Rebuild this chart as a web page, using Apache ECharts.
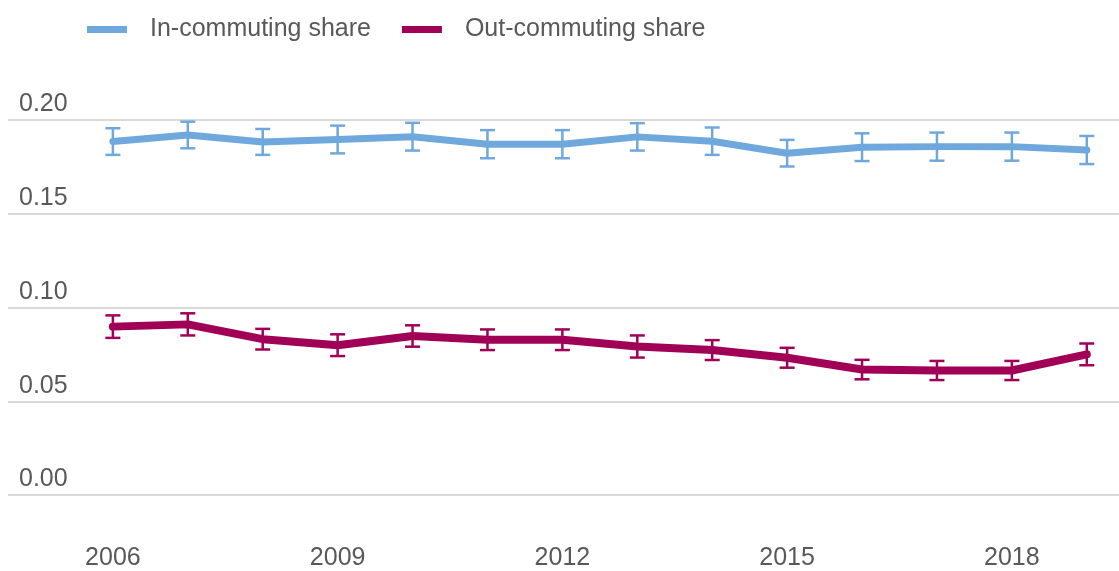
<!DOCTYPE html>
<html lang="en">
<head>
  <meta charset="UTF-8">
  <title>Commuting shares</title>
  <style>
    html, body { margin: 0; padding: 0; background: #fff; }
    #chart { width: 1119px; height: 571px; }
  </style>
</head>
<body>
  <div id="chart"></div>
  <script src="https://cdn.jsdelivr.net/npm/echarts@6/dist/echarts.min.js"></script>
  <script>
    // data
    var years = [2006, 2007, 2008, 2009, 2010, 2011, 2012, 2013, 2014, 2015, 2016, 2017, 2018, 2019];
    var yearLabels = [2006, 2009, 2012, 2015, 2018];
    var inShare = [0.1885, 0.1920, 0.1883, 0.1896, 0.1911, 0.1871, 0.1871, 0.1910, 0.1887, 0.1823, 0.1855, 0.1858, 0.1858, 0.1840];
    var inErr = [0.0071, 0.0071, 0.0069, 0.0074, 0.0074, 0.0075, 0.0075, 0.0073, 0.0073, 0.0071, 0.0074, 0.0075, 0.0075, 0.0075];
    var outShare = [0.0898, 0.0910, 0.0831, 0.0799, 0.0848, 0.0828, 0.0828, 0.0792, 0.0773, 0.0732, 0.0669, 0.0664, 0.0664, 0.0750];
    var outErr = [0.0060, 0.0059, 0.0055, 0.0058, 0.0057, 0.0055, 0.0055, 0.0059, 0.0053, 0.0053, 0.0052, 0.0051, 0.0051, 0.0058];
    var yTicks = [0, 0.05, 0.10, 0.15, 0.20];

    var blue = '#6fa8dc';
    var maroon = '#a00056';
    var grey = '#595959';
    var font = 'Liberation Sans, Arial, sans-serif';

    function pairs(vals) {
      return years.map(function (y, i) { return [y, vals[i]]; });
    }
    function bars(vals, errs) {
      return years.map(function (y, i) { return [y, vals[i] - errs[i], vals[i] + errs[i]]; });
    }

    // draws one error bar (stem + two caps)
    function errorBar(color) {
      return function (params, api) {
        var x = api.value(0);
        var lo = api.coord([x, api.value(1)]);
        var hi = api.coord([x, api.value(2)]);
        var w = 7.5;
        var style = { stroke: color, lineWidth: 2.5 };
        return {
          type: 'group',
          children: [
            { type: 'line', shape: { x1: lo[0], y1: lo[1], x2: hi[0], y2: hi[1] }, style: style },
            { type: 'line', shape: { x1: lo[0] - w, y1: lo[1], x2: lo[0] + w, y2: lo[1] }, style: style },
            { type: 'line', shape: { x1: hi[0] - w, y1: hi[1], x2: hi[0] + w, y2: hi[1] }, style: style }
          ]
        };
      };
    }

    var myChart = echarts.init(document.getElementById('chart'));
    var option = {
      animation: false,
      textStyle: { fontFamily: font },
      legend: {
        left: 87,
        top: 17,
        padding: 0,
        icon: 'rect',
        itemWidth: 40,
        itemHeight: 7,
        itemGap: 31,
        data: ['In-commuting share', 'Out-commuting share'],
        lineStyle: { cap: 'butt', width: 0 },
        textStyle: { fontSize: 25, color: grey, fontFamily: font, padding: [0, 0, 0, 18] }
      },
      grid: { left: 8, right: 0, top: 120, bottom: 75 },
      xAxis: {
        type: 'value',
        min: 2004.6,
        max: 2019.43,
        axisLine: { show: false },
        axisTick: { show: false },
        splitLine: { show: false },
        axisLabel: {
          customValues: yearLabels,
          margin: 51,
          fontSize: 25,
          color: grey,
          fontFamily: font,
          formatter: function (v) { return String(v); }
        }
      },
      yAxis: {
        type: 'value',
        min: 0,
        max: 0.2,
        interval: 0.05,
        axisLine: { show: false },
        axisTick: { show: false },
        splitLine: { lineStyle: { color: '#d9d9d9', width: 2 } },
        axisLabel: {
          inside: true,
          margin: 11,
          fontSize: 25,
          color: grey,
          fontFamily: font,
          verticalAlign: 'bottom',
          padding: [0, 0, 3, 0],
          formatter: function (v) {
            var t = yTicks.filter(function (k) { return Math.abs(k - v) < 1e-9; });
            return t.length ? t[0].toFixed(2) : '';
          }
        }
      },
      series: [
        {
          name: 'In-commuting share',
          type: 'line',
          data: pairs(inShare),
          showSymbol: false,
          color: blue,
          lineStyle: { width: 7, color: blue, cap: 'round', join: 'round' }
        },
        {
          name: 'Out-commuting share',
          type: 'line',
          data: pairs(outShare),
          showSymbol: false,
          color: maroon,
          lineStyle: { width: 8, color: maroon, cap: 'round', join: 'round' }
        },
        {
          name: 'in-err',
          type: 'custom',
          data: bars(inShare, inErr),
          encode: { x: 0, y: [1, 2] },
          renderItem: errorBar(blue),
          z: 3
        },
        {
          name: 'out-err',
          type: 'custom',
          data: bars(outShare, outErr),
          encode: { x: 0, y: [1, 2] },
          renderItem: errorBar(maroon),
          z: 3
        }
      ]
    };
    myChart.setOption(option);
  </script>
</body>
</html>
